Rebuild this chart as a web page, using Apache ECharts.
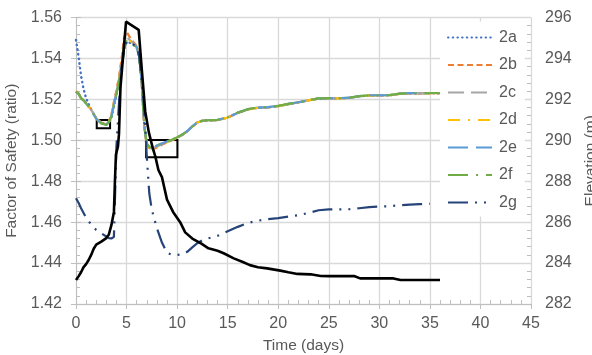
<!DOCTYPE html>
<html>
<head>
<meta charset="utf-8">
<script src="https://cdn.jsdelivr.net/npm/echarts@6/dist/echarts.min.js"></script>
<style>
html,body{margin:0;padding:0;background:#fff;}
#chart{width:592px;height:355px;}
</style>
</head>
<body>
<div id="chart"></div>
<script>
// ---- Data ----
const seriesNames = ['2a','2b','2c','2d','2e','2f','2g'];
const timeDays = [0,0.25,0.5,0.75,1,1.5,2,2.5,3,3.25,3.5,3.75,4,4.25,4.5,4.75,5,5.5,6,6.25,6.5,6.75,7,7.25,7.5,8,8.5,9,9.5,10,10.5,11,11.5,12,12.5,13,14,15,16,17,18,19,20,21,22,23,24,25,26,27,28,29,30,31,32,33,34,35,36];

const fos2a = [1.5490,1.5410,1.5315,1.5250,1.5205,1.5150,1.5108,1.5085,1.5078,1.5085,1.5108,1.5165,1.5220,1.5282,1.5358,1.5440,1.5482,1.5474,1.5454,1.5408,1.5280,1.5072,1.4983,1.4967,1.4965,1.4974,1.4984,1.4994,1.5003,1.5014,1.5027,1.5044,1.5067,1.5087,1.5095,1.5097,1.5099,1.5111,1.5134,1.5151,1.5159,1.5161,1.5167,1.5177,1.5185,1.5195,1.5204,1.5205,1.5205,1.5207,1.5215,1.5219,1.5219,1.5220,1.5227,1.5229,1.5229,1.5230,1.5230];
const fos2b = [1.5240,1.5230,1.5208,1.5196,1.5182,1.5150,1.5108,1.5086,1.5080,1.5092,1.5125,1.5190,1.5245,1.5310,1.5395,1.5500,1.5530,1.5490,1.5462,1.5415,1.5285,1.5068,1.4975,1.4958,1.4955,1.4965,1.4978,1.4990,1.5000,1.5012,1.5026,1.5043,1.5066,1.5086,1.5095,1.5097,1.5099,1.5111,1.5134,1.5151,1.5159,1.5161,1.5167,1.5177,1.5185,1.5195,1.5204,1.5205,1.5205,1.5207,1.5215,1.5219,1.5219,1.5220,1.5227,1.5229,1.5229,1.5230,1.5230];
const fos2c = [1.5238,1.5228,1.5206,1.5195,1.5181,1.5149,1.5107,1.5084,1.5078,1.5090,1.5120,1.5182,1.5235,1.5298,1.5378,1.5470,1.5505,1.5482,1.5458,1.5412,1.5282,1.5068,1.4978,1.4962,1.4960,1.4970,1.4981,1.4992,1.5001,1.5013,1.5026,1.5044,1.5067,1.5087,1.5095,1.5097,1.5099,1.5111,1.5134,1.5151,1.5159,1.5161,1.5167,1.5177,1.5185,1.5195,1.5204,1.5205,1.5205,1.5207,1.5215,1.5219,1.5219,1.5220,1.5227,1.5229,1.5229,1.5230,1.5230];
const fos2d = [1.5238,1.5228,1.5206,1.5195,1.5181,1.5149,1.5106,1.5084,1.5077,1.5090,1.5118,1.5180,1.5232,1.5295,1.5375,1.5465,1.5500,1.5480,1.5457,1.5411,1.5281,1.5068,1.4976,1.4960,1.4958,1.4968,1.4980,1.4991,1.5001,1.5013,1.5026,1.5044,1.5067,1.5087,1.5095,1.5097,1.5099,1.5111,1.5134,1.5151,1.5159,1.5161,1.5167,1.5177,1.5185,1.5195,1.5204,1.5205,1.5205,1.5207,1.5215,1.5219,1.5219,1.5220,1.5227,1.5229,1.5229,1.5230,1.5230];
const fos2e = [1.5237,1.5227,1.5205,1.5195,1.5180,1.5148,1.5105,1.5083,1.5076,1.5088,1.5114,1.5175,1.5226,1.5287,1.5362,1.5448,1.5482,1.5474,1.5455,1.5410,1.5280,1.5070,1.4982,1.4966,1.4964,1.4973,1.4984,1.4994,1.5002,1.5014,1.5027,1.5045,1.5068,1.5088,1.5096,1.5098,1.5100,1.5112,1.5135,1.5152,1.5160,1.5162,1.5168,1.5178,1.5186,1.5196,1.5205,1.5206,1.5206,1.5208,1.5216,1.5220,1.5220,1.5221,1.5228,1.5230,1.5230,1.5231,1.5231];
const fos2f = [1.5237,1.5228,1.5205,1.5195,1.5180,1.5148,1.5105,1.5082,1.5075,1.5088,1.5115,1.5175,1.5225,1.5285,1.5360,1.5445,1.5485,1.5475,1.5455,1.5410,1.5280,1.5070,1.4985,1.4968,1.4966,1.4975,1.4985,1.4995,1.5003,1.5015,1.5028,1.5045,1.5068,1.5088,1.5096,1.5098,1.5100,1.5112,1.5135,1.5152,1.5160,1.5162,1.5168,1.5178,1.5186,1.5196,1.5205,1.5206,1.5206,1.5208,1.5216,1.5220,1.5220,1.5221,1.5228,1.5230,1.5230,1.5231,1.5231];
const fos2g = [1.4717,1.4695,1.4668,1.4645,1.4622,1.4588,1.4562,1.4545,1.4530,1.4522,1.4520,1.4528,1.4970,1.5180,1.5355,1.5440,1.5480,1.5475,1.5455,1.5410,1.5290,1.5150,1.4920,1.4740,1.4660,1.4570,1.4500,1.4450,1.4440,1.4440,1.4442,1.4455,1.4477,1.4497,1.4512,1.4520,1.4533,1.4555,1.4577,1.4596,1.4607,1.4615,1.4620,1.4627,1.4634,1.4645,1.4658,1.4662,1.4662,1.4663,1.4668,1.4673,1.4676,1.4678,1.4682,1.4686,1.4688,1.4690,null];

const elevTime = [0,0.25,0.5,0.75,1,1.25,1.5,1.75,2,2.5,3,3.25,3.5,3.75,3.85,3.95,4.15,4.25,4.4,4.95,5.4,6.2,6.5,6.85,7.2,7.6,7.85,8.15,8.5,9,9.6,10.3,10.8,11.5,12.4,13.1,14,14.6,15.6,16.5,17.2,18,18.9,20.2,21,21.9,23.2,24.2,25,27.5,28.1,31.4,32.1,36];
const elevation = [283.17,283.35,283.55,283.8,283.95,284.15,284.4,284.7,284.9,285.05,285.22,285.4,285.85,286.5,288.0,289.3,289.7,290.3,292.6,295.8,295.65,295.4,293.5,291.4,290.4,289.6,289.2,288.55,288.2,287.1,286.5,286.0,285.5,285.2,284.95,284.72,284.6,284.48,284.23,284.05,283.9,283.8,283.74,283.63,283.55,283.47,283.45,283.37,283.36,283.37,283.25,283.25,283.17,283.17];

// highlight boxes: [tStart, fosLow, tEnd, fosHigh]
const boxes = [[2.05,1.5059,3.37,1.5099],[6.93,1.4917,10.03,1.5001]];

const xTicks = {min:0, max:45, interval:5};
const fosTicks = {min:1.42, max:1.56, interval:0.02};
const elevTicks = {min:282, max:296, interval:2};

// ---- Styles ----
const colors = ['#4472C4','#ED7D31','#A5A5A5','#FFC000','#5B9BD5','#70AD47','#264478'];
const dashes = [[0.5,4.2],[6,3.5],[16,7],[12,8,2,8],[20,8],[20,8,2,8],[20,7,2,7,2,7]];
const fosData = [fos2a,fos2b,fos2c,fos2d,fos2e,fos2f,fos2g];
const txt = '#595959';
const axisCol = '#BFBFBF';
const gridCol = '#D9D9D9';

const series = seriesNames.map((n,i)=>({
  name:n, type:'line', yAxisIndex:0, xAxisIndex:0,
  symbol:'none', showSymbol:false,
  data: timeDays.map((t,j)=>[t, fosData[i][j]]),
  connectNulls:false,
  lineStyle:{color:colors[i], width: i===0?2.4:2.2, type:dashes[i], cap: i===0?'round':'butt'},
  itemStyle:{color:colors[i]},
  z: 2
}));
series.push({
  name:'boxes', type:'line', yAxisIndex:0, data:[], symbol:'none', z:3,
  markArea:{silent:true, itemStyle:{color:'rgba(0,0,0,0)', borderColor:'#000', borderWidth:2},
    data: boxes.map(b=>[{coord:[b[0],b[1]]},{coord:[b[2],b[3]]}])}
});
series.push({
  name:'Elevation', type:'line', yAxisIndex:1, symbol:'none', showSymbol:false,
  data: elevTime.map((t,j)=>[t, elevation[j]]),
  lineStyle:{color:'#000', width:2.6}, itemStyle:{color:'#000'}, z:4
});

const labelStyle = {color:txt, fontSize:16, fontFamily:'Liberation Sans, Arial, sans-serif'};
const nameStyle = {color:txt, fontSize:15.5, fontFamily:'Liberation Sans, Arial, sans-serif'};

const minorAxis = (extra)=>Object.assign({
  type:'value', axisLine:{show:false}, axisTick:{show:false, inside:true},
  axisLabel:{show:false}, splitLine:{show:false},
  minorTick:{show:true, splitNumber:5, length:4, lineStyle:{color:axisCol, width:1}}
}, extra);

const option = {
  animation:false,
  backgroundColor:'#fff',
  grid:{left:76, right:61, top:17.5, bottom:51, containLabel:false, outerBoundsMode:'none'},
  legend:{
    data:seriesNames, orient:'vertical', left:440, top:21.5,
    padding:[8,8,6,7], backgroundColor:'#fff',
    itemWidth:44, itemHeight:14, itemGap:11.5,
    itemStyle:{opacity:0, borderWidth:0},
    textStyle:Object.assign({}, labelStyle, {padding:[0,0,0,2]}),
    z:10
  },
  xAxis:[
    Object.assign({type:'value'}, xTicks, {
      position:'bottom',
      name:'Time (days)', nameLocation:'middle', nameGap:34, nameTextStyle:nameStyle,
      axisLine:{show:true, lineStyle:{color:axisCol, width:1}},
      axisTick:{show:true, length:5, lineStyle:{color:axisCol}},
      axisLabel:Object.assign({margin:12}, labelStyle),
      splitLine:{show:true, lineStyle:{color:gridCol, width:1.3}}
    }),
    minorAxis(Object.assign({position:'bottom'}, xTicks))
  ],
  yAxis:[
    Object.assign({type:'value'}, fosTicks, {
      position:'left',
      name:'Factor of Safety (ratio)', nameLocation:'middle', nameGap:49, nameTextStyle:nameStyle,
      axisLine:{show:true, lineStyle:{color:axisCol, width:1}},
      axisTick:{show:true, length:5, lineStyle:{color:axisCol}},
      axisLabel:Object.assign({margin:14, formatter:v=>v.toFixed(2)}, labelStyle),
      splitLine:{show:true, lineStyle:{color:gridCol, width:1.3}}
    }),
    Object.assign({type:'value'}, elevTicks, {
      position:'right',
      name:'Elevation (m)', nameLocation:'middle', nameGap:47, nameTextStyle:nameStyle,
      axisLine:{show:true, lineStyle:{color:axisCol, width:1}},
      axisTick:{show:true, length:5, lineStyle:{color:axisCol}},
      axisLabel:Object.assign({margin:14}, labelStyle),
      splitLine:{show:false}
    }),
    minorAxis(Object.assign({position:'left'}, fosTicks)),
    minorAxis(Object.assign({position:'right'}, elevTicks))
  ],
  series:series
};

const chart = echarts.init(document.getElementById('chart'), null, {renderer:'canvas'});
chart.setOption(option);
</script>
</body>
</html>
